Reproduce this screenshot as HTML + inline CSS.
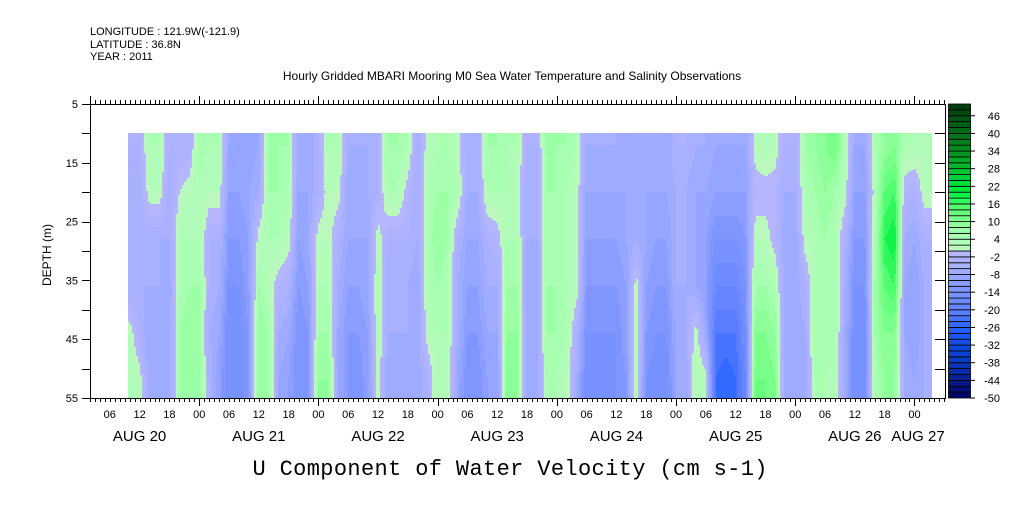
<!DOCTYPE html>
<html><head><meta charset="utf-8"><style>
body{margin:0;background:#fff;}
svg text{font-family:"Liberation Sans",sans-serif;fill:#000;}
</style></head><body>
<svg id="chart" width="1009" height="504" viewBox="0 0 1009 504" xmlns="http://www.w3.org/2000/svg">
<text x="90" y="35" font-size="11">LONGITUDE : 121.9W(-121.9)</text>
<text x="90" y="48" font-size="11">LATITUDE : 36.8N</text>
<text x="90" y="60" font-size="11">YEAR : 2011</text>
<text x="512" y="80" font-size="12" text-anchor="middle">Hourly Gridded MBARI Mooring M0 Sea Water Temperature and Salinity Observations</text>
<g id="heat"></g>
<g id="axes"></g>
<g id="cbar"></g>
<text x="0" y="0" font-size="12" text-anchor="middle" transform="translate(51,255) rotate(-90)">DEPTH (m)</text>
<text x="510" y="475" font-size="22" text-anchor="middle" textLength="515" style="font-family:'Liberation Mono',monospace">U Component of Water Velocity (cm s-1)</text>
</svg>
<script>
// data: hours since AUG 20 00:00 (2h steps), depths (m), values (cm/s) per depth row
const hourStart = 10, hourStep = 2;
const depths = [12, 20, 28, 36, 44, 52];
const v12 = [-4,-4,4,4,-4,-4,-4,6,4,4,-8,-10,-10,-8,6,6,6,-8,-8,-4,4,4,-6,-6,-6,-4,6,6,4,-6,2,4,4,2,-6,-6,6,6,4,4,-4,-4,6,6,6,4,-6,-6,-6,-6,-8,-8,-8,-8,-8,-4,-4,-6,-6,-8,-8,-8,-8,2,4,2,-4,-4,6,8,10,12,4,-8,-8,4,8,10,4,4,2];
const v20 = [-6,-6,2,2,-6,0,2,4,2,2,-10,-10,-8,-6,6,6,4,-8,-8,-4,2,2,-8,-8,-6,-4,4,4,-2,-6,4,6,6,4,-6,-6,4,4,4,2,-6,-6,6,6,4,2,-8,-8,-8,-8,-8,-8,-8,-8,-8,-6,-6,-8,-8,-10,-10,-10,-10,-2,-2,-2,-6,-6,4,6,8,6,2,-10,-10,2,14,16,-2,-4,2];
const v28 = [-6,-6,-6,-6,-6,4,4,4,-4,-4,-12,-12,-10,2,4,4,2,-10,-8,2,2,-4,-8,-8,-8,2,-4,-4,-4,-6,4,8,6,-4,-8,-8,-4,-2,4,4,-6,-6,4,6,4,2,-10,-10,-10,-10,-8,-6,-8,-10,-10,-6,-6,-8,-10,-14,-14,-14,-12,2,2,-2,-8,-8,2,4,6,4,-4,-12,-12,4,18,20,-6,-8,-4];
const v36 = [-6,-6,-6,-6,-8,4,6,6,-4,-6,-14,-14,-10,6,2,-2,-4,-12,-10,4,4,-6,-10,-10,-8,4,-6,-6,-6,-8,4,6,4,-6,-10,-10,-6,-6,6,6,-8,-8,6,6,4,2,-12,-12,-12,-12,-10,2,-10,-12,-12,-6,-6,-8,-10,-18,-18,-18,-14,6,6,4,-8,-8,-4,4,6,6,-6,-14,-14,6,14,16,-8,-10,-6];
const v44 = [2,-4,-8,-8,-8,6,8,8,-6,-8,-16,-16,-12,8,6,-6,-8,-14,-12,6,6,-8,-12,-12,-10,4,-6,-6,-6,-8,2,4,4,-6,-12,-12,-8,-8,8,8,-8,-8,6,6,4,-4,-14,-14,-14,-14,-10,4,-12,-14,-14,-8,-6,2,-8,-22,-22,-22,-16,10,10,8,-8,-8,-6,6,6,4,-6,-16,-16,6,10,10,-8,-10,-6];
const v52 = [4,2,-8,-8,-8,6,8,6,-4,-10,-16,-16,-12,8,6,-8,-10,-14,-12,8,8,-8,-12,-14,-10,2,-8,-8,-6,-8,-4,4,2,-8,-14,-14,-10,-10,10,8,-8,-8,4,4,2,-6,-16,-16,-16,-14,-12,4,-14,-16,-16,-8,-8,4,2,-24,-26,-24,-18,12,12,10,-8,-8,-8,4,4,2,-6,-16,-16,4,8,8,-6,-8,-6];
const rows = [v12, v20, v28, v36, v44, v52];
const cbLevels = [-50,-48,-46,-44,-42,-40,-38,-36,-34,-32,-30,-28,-26,-24,-22,-20,-18,-16,-14,-12,-10,-8,-6,-4,-2,0,2,4,6,8,10,12,14,16,18,20,22,24,26,28,30,32,34,36,38,40,42,44,46,48,50];
const cbLabels = [46,40,34,28,22,16,10,4,-2,-8,-14,-20,-26,-32,-38,-44,-50];
const hourTickLabels = ["06","12","18","00"];
const dayLabels = ["AUG 20","AUG 21","AUG 22","AUG 23","AUG 24","AUG 25","AUG 26","AUG 27"];
const depthTicks = [5,15,25,35,45,55];

const NS="http://www.w3.org/2000/svg";
const X0=80, PXH=4.967;
const xH = h => X0 + h*PXH;
const yD = d => 104 + (d-5)*5.88;
const L=90, R=945, T=104, B=398;

function lerp(a,b,t){return a.map((v,i)=>Math.round(v+(b[i]-v)*t));}
const stops=[[-50,[0,0,96]],[-44,[8,32,144]],[-38,[8,56,192]],[-32,[16,72,224]],[-26,[40,100,255]],[-21,[90,125,255]],[-17,[110,140,255]],[-13,[128,150,255]],[-9,[150,165,255]],[-5,[168,176,255]],[-1,[182,182,255]],[1,[186,248,190]],[5,[168,255,178]],[9,[140,255,152]],[14,[96,255,120]],[20,[0,240,64]],[28,[0,192,48]],[34,[0,144,32]],[40,[0,112,24]],[50,[0,56,16]]];
function colorOf(v){
  const b=Math.floor(v/2)*2+1;
  for(let i=0;i<stops.length-1;i++){
    if(b<=stops[i+1][0]){const t=Math.max(0,(b-stops[i][0])/(stops[i+1][0]-stops[i][0]));const c=lerp(stops[i][1],stops[i+1][1],t);return `rgb(${c[0]},${c[1]},${c[2]})`;}
  }
  const c=stops[stops.length-1][1];return `rgb(${c[0]},${c[1]},${c[2]})`;
}
function mk(tag,attrs,parent){const e=document.createElementNS(NS,tag);for(const k in attrs)e.setAttribute(k,attrs[k]);parent.appendChild(e);return e;}
function valAt(row,h){
  const f=(h-hourStart)/hourStep; const n=row.length;
  if(f<=0) return row[0]; if(f>=n-1) return row[n-1];
  const i=Math.floor(f), t=f-i; return row[i]+(row[i+1]-row[i])*t;
}

// heatmap
const heat=document.getElementById('heat');
const xs=Math.round(xH(9.7)), xe=Math.round(xH(171.5));
for(let x=xs;x<xe;x+=2){
  const h=(x+1-X0)/PXH;
  const colVals=rows.map(r=>valAt(r,h));
  const yTop=Math.round(yD(10)), yBot=B;
  let runStart=yTop, runCol=null;
  for(let y=yTop;y<=yBot;y++){
    let col=null;
    if(y<yBot){
      const d=5+(y+0.5-104)/5.88;
      let v;
      if(d<=depths[0]) v=colVals[0];
      else if(d>=depths[depths.length-1]) v=colVals[depths.length-1];
      else{let k=0;while(d>depths[k+1])k++;const t=(d-depths[k])/(depths[k+1]-depths[k]);v=colVals[k]+(colVals[k+1]-colVals[k])*t;}
      col=colorOf(v);
    }
    if(col!==runCol){
      if(runCol){const r=mk('rect',{x:x,y:runStart,width:Math.min(2.3,xe-x),height:y-runStart,fill:runCol},heat);
        
        }
      runStart=y;runCol=col;
    }
  }
}

// axes
const ax=document.getElementById('axes');
const st={stroke:'#000','stroke-width':1,fill:'none'};
mk('rect',{x:L+0.5,y:T+0.5,width:R-L,height:B-T,...st},ax);
mk('line',{x1:L+0.5,y1:T-8,x2:L+0.5,y2:T,...st},ax);
for(let h=2;h<=174;h++){
  const x=Math.round(xH(h))+0.5, day=h%24===0;
  mk('line',{x1:x,y1:T,x2:x,y2:T-(day?8:4),...st},ax);
  mk('line',{x1:x,y1:B,x2:x,y2:B+(day?8:4),...st},ax);
}
for(let h=6;h<=168;h+=6){
  const t=mk('text',{x:xH(h),y:418,'font-size':11,'text-anchor':'middle'},ax);
  t.textContent=hourTickLabels[(h/6-1)%4];
  
  
}
dayLabels.forEach((s,k)=>{
  const cx = k<7 ? xH(k*24+12) : 918;
  const t=mk('text',{x:cx,y:441,'font-size':15,'text-anchor':'middle'},ax);
  t.textContent=s;
  
  
});
for(let d=5;d<=55;d+=5){
  const y=Math.round(yD(d))+0.5;
  mk('line',{x1:L-8,y1:y,x2:L,y2:y,...st},ax);
  mk('line',{x1:R-10,y1:y,x2:R,y2:y,...st},ax);
}
depthTicks.forEach(d=>{
  const t=mk('text',{x:78,y:yD(d)+4,'font-size':11,'text-anchor':'end'},ax);
  t.textContent=d;
  
  
});

// colorbar
const cb=document.getElementById('cbar');
const cbTop=104, cbBot=398, nb=cbLevels.length-1, bh=(cbBot-cbTop)/nb;
const yC=v=>cbBot-(v-cbLevels[0])/(cbLevels[nb]-cbLevels[0])*(cbBot-cbTop);
for(let k=0;k<nb;k++){
  const lo=cbLevels[k];
  const r=mk('rect',{x:948.5,y:yC(lo+2).toFixed(2),width:22,height:bh.toFixed(2),fill:colorOf(lo),stroke:'#000','stroke-width':0.8},cb);
  
  
}
cbLabels.forEach(v=>{
  const y=yC(v);
  mk('line',{x1:970,y1:y,x2:975,y2:y,...st},cb);
  const t=mk('text',{x:1000,y:y+4,'font-size':11,'text-anchor':'end'},cb);
  t.textContent=v;
  
  
});
</script>
</body></html>
